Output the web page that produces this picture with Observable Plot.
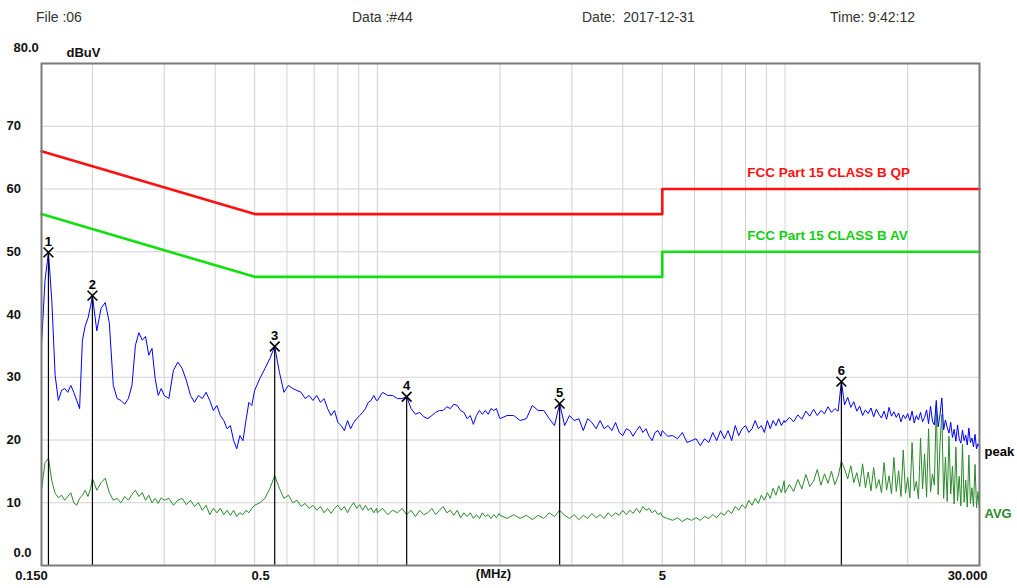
<!DOCTYPE html>
<html><head><meta charset="utf-8">
<script src="https://cdn.jsdelivr.net/npm/d3@7"></script>
<script src="https://cdn.jsdelivr.net/npm/@observablehq/plot@0.6"></script>
<style>
body{margin:0;background:#fff;width:1017px;height:588px;overflow:hidden;font-family:"Liberation Sans",Arial,sans-serif;}
#hdr{position:relative;height:34px;}
#hdr span{position:absolute;top:9px;font-size:14px;line-height:16px;color:#333;white-space:pre;}
</style></head><body>
<div id="hdr"></div><div id="chart"></div>
<script>
// ---------- data ----------
const headerItems = ["File :06", "Data :#44", "Date:  2017-12-31", "Time: 9:42:12"];

const freqMHz = [
  0.150,0.153,0.156,0.159,0.162,0.165,0.168,0.171,0.174,0.177,0.180,0.183,0.186,0.189,0.192,0.195,0.198,
  0.200,0.205,0.210,0.215,0.220,0.225,0.230,0.235,0.240,0.245,0.250,0.255,0.260,0.265,0.270,0.275,0.280,0.285,0.290,0.295,
  0.300,0.308,0.316,0.324,0.332,0.340,0.348,0.356,0.364,0.372,0.380,0.388,0.396,0.404,0.412,0.420,0.428,0.436,0.444,0.452,0.460,0.468,0.476,0.484,0.492,
  0.500,0.515,0.530,0.545,0.560,0.575,0.590,0.605,0.620,0.635,0.650,0.665,0.680,0.695,0.710,0.725,0.740,0.755,0.770,0.785,0.800,0.815,0.830,0.845,0.860,0.875,0.890,0.905,0.920,0.935,0.950,0.965,0.980,0.995,
  1.00,1.03,1.06,1.09,1.12,1.15,1.18,1.21,1.24,1.27,1.30,1.33,1.36,1.39,1.42,1.45,1.48,1.51,1.54,1.57,1.60,1.63,1.66,1.69,1.72,1.75,1.78,1.81,1.84,1.87,1.90,1.93,1.96,1.99,
  2.00,2.08,2.16,2.24,2.32,2.40,2.48,2.56,2.64,2.72,2.80,2.88,2.96,3.04,3.12,3.20,3.28,3.36,3.44,3.52,3.60,3.68,3.76,3.84,3.92,4.00,4.08,4.16,4.24,4.32,4.40,4.48,4.56,4.64,4.72,4.80,4.88,4.96,
  5.00,5.15,5.30,5.45,5.60,5.75,5.90,6.05,6.20,6.35,6.50,6.65,6.80,6.95,7.10,7.25,7.40,7.55,7.70,7.85,8.00,8.15,8.30,8.45,8.60,8.75,8.90,9.05,9.20,9.35,9.50,9.65,9.80,9.95,
  10.00,10.25,10.50,10.75,11.00,11.25,11.50,11.75,12.00,12.25,12.50,12.75,13.00,13.25,13.50,13.75,
  14.00,14.25,14.50,14.75,15.00,15.25,15.50,15.75,16.00,16.25,16.50,16.75,17.00,17.25,17.50,17.75,
  18.00,18.25,18.50,18.75,19.00,19.25,19.50,19.75,20.00,20.25,20.50,20.75,21.00,21.25,21.50,21.75,
  22.00,22.25,22.50,22.75,23.00,23.25,23.50,23.75,24.00,24.25,24.50,24.75,25.00,25.25,25.50,25.75,
  26.00,26.25,26.50,26.75,27.00,27.25,27.50,27.75,28.00,28.25,28.50,28.75,29.00,29.25,29.50,29.75,30.00
];

const peakDb = [
  35.1,45.4,49.9,42.2,30.3,26.3,27.9,28.2,27.6,28.7,27.6,26.3,25.0,35.9,38.2,39.4,41.4,
  43.0,37.4,41.0,41.9,38.7,28.7,26.6,26.3,25.7,26.6,28.7,35.1,37.1,35.9,36.5,33.5,34.6,29.8,27.1,28.2,
  27.1,26.6,31.1,32.4,31.4,29.5,27.1,26.0,27.1,26.6,27.6,26.3,24.7,25.5,23.9,23.1,21.8,22.3,19.9,18.6,20.7,19.9,23.1,26.0,25.5,
  27.9,29.8,31.4,33.0,34.9,30.8,27.6,28.7,28.2,27.9,27.6,26.6,27.1,26.3,27.1,26.0,26.6,25.0,23.9,24.7,22.8,22.3,21.5,23.1,21.8,22.8,23.4,23.9,24.4,25.0,26.0,26.3,27.1,26.3,
  26.3,27.6,27.1,27.1,26.6,26.6,26.9,25.0,24.1,24.4,23.7,23.4,23.9,24.4,24.7,24.7,25.3,25.0,25.7,25.5,24.7,24.4,23.4,23.9,22.5,23.9,24.7,24.1,24.7,24.1,25.0,24.7,25.0,23.7,
  23.4,23.9,23.9,23.1,23.4,25.5,24.7,24.7,23.4,22.3,25.8,22.3,23.9,23.1,23.4,21.5,23.4,22.8,21.8,23.1,21.8,22.3,21.5,22.8,21.2,20.7,21.8,21.5,20.6,21.5,22.2,21.2,21.8,20.6,19.9,21.2,21.5,20.6,
  21.5,20.6,20.7,20.2,21.2,19.6,19.9,20.2,19.1,20.2,19.6,21.2,19.9,21.5,20.2,21.5,19.9,22.3,20.7,21.8,22.3,21.2,21.8,23.1,21.8,22.3,21.2,23.1,21.8,23.1,22.3,23.4,22.3,23.1,
  22.8,23.6,22.9,24.0,23.3,24.6,23.8,24.9,23.9,24.7,24.2,25.3,24.4,25.0,24.6,29.3,
  25.6,26.8,25.2,26.1,24.6,25.4,23.9,24.8,24.2,25.1,23.7,24.9,24.1,23.5,24.6,23.3,
  25.2,23.8,24.5,23.6,24.3,22.9,24.0,23.4,24.2,23.1,24.6,22.7,23.9,23.2,24.4,22.9,
  23.6,24.8,22.6,25.4,23.0,22.4,26.3,22.1,24.0,26.7,21.6,23.2,22.0,21.1,22.8,20.4,
  21.7,19.8,22.4,20.2,19.5,21.6,19.9,20.8,19.2,21.9,19.6,20.3,18.9,20.9,18.6,19.4,19.0
];

const avgDb = [
  12.0,16.4,17.1,13.5,11.5,10.8,11.2,10.4,11.0,11.6,10.0,9.6,10.7,11.2,12.0,11.0,12.3,
  13.9,12.0,13.2,13.9,11.6,10.4,10.7,10.0,11.0,10.4,11.3,12.0,11.0,11.6,10.4,11.2,10.0,10.7,9.9,10.8,
  10.4,10.7,9.6,10.4,10.7,9.7,10.4,9.4,10.0,8.8,9.6,8.1,9.1,8.4,9.1,8.1,8.8,8.0,8.8,7.8,8.4,8.1,8.8,8.4,9.1,
  9.6,10.0,10.7,12.3,14.3,12.3,10.7,11.2,10.0,10.4,9.4,9.9,9.1,9.6,8.8,9.4,8.4,9.1,8.3,9.1,9.6,8.8,9.4,8.4,9.4,10.0,9.1,9.7,8.8,9.6,8.8,9.2,8.4,9.1,
  8.4,9.1,8.1,8.8,8.4,9.1,8.1,8.8,7.8,8.8,8.1,8.4,9.1,8.1,8.8,9.4,8.4,8.8,8.0,8.8,7.6,8.4,7.8,8.4,7.5,8.1,7.5,8.4,7.8,8.1,7.5,8.1,7.6,8.3,
  8.0,7.5,8.1,7.5,8.0,7.3,8.0,7.5,8.4,7.8,8.8,8.0,7.5,8.1,7.3,8.0,7.5,8.3,7.6,8.1,7.5,8.4,7.8,8.4,8.0,8.8,8.1,8.8,8.3,9.1,8.4,9.4,8.8,9.1,8.4,8.8,8.1,8.4,
  7.8,7.5,7.2,7.6,7.0,7.5,7.2,7.6,7.2,7.8,7.5,8.1,7.6,8.4,8.0,8.8,8.3,9.4,8.8,9.7,9.1,10.4,9.6,10.7,9.9,11.2,10.4,11.6,10.7,12.3,11.2,12.7,11.6,13.5,
  11.6,12.9,11.8,13.7,12.2,14.5,12.6,13.4,15.3,12.8,14.6,13.1,15.0,12.9,14.2,16.6,
  15.4,13.8,15.9,13.2,14.8,12.6,16.2,12.4,14.9,11.9,15.6,12.3,13.7,11.6,16.4,12.0,
  14.3,11.4,17.2,11.8,15.1,11.0,18.4,11.5,14.0,10.8,19.6,11.9,13.4,10.6,20.3,12.2,
  17.8,10.9,21.8,11.7,14.6,12.8,25.6,11.3,19.4,24.1,10.7,17.3,10.2,20.6,11.4,15.8,
  9.8,18.9,10.3,14.2,9.5,19.3,10.1,13.6,9.3,17.6,9.9,12.4,9.4,16.1,9.2,11.8,8.8
];

// FCC Part 15 Class B limits (frequency MHz, dBuV)
const qpLimitFreq = [0.15, 0.5, 5, 5, 30];
const qpLimitDb   = [66, 56, 56, 60, 60];
const avLimitFreq = [0.15, 0.5, 5, 5, 30];
const avLimitDb   = [56, 46, 46, 50, 50];
const limitNames  = ["FCC Part 15 CLASS B QP", "FCC Part 15 CLASS B AV"];

// markers
const markerNo   = [1, 2, 3, 4, 5, 6];
const markerFreq = [0.156, 0.200, 0.560, 1.18, 2.80, 13.75];
const markerDb   = [49.9, 43.0, 34.9, 26.9, 25.8, 29.3];

// axes
const xTickValues = [0.15, 0.5, 5, 30];
const xTickLabels = ["0.150", "0.5", "5", "30.000"];
const xUnit = "(MHz)";
const yTickValues = [10, 20, 30, 40, 50, 60, 70];
const yTopLabel = "80.0", yBottomLabel = "0.0", yUnit = "dBuV";
const gridFreq = [0.2,0.3,0.4,0.5,0.6,0.7,0.8,0.9,1,2,3,4,5,6,7,8,9,10,20];
const gridDb = [10, 20, 30, 40, 50, 60, 70];
const traceNames = ["peak", "AVG"];

// ---------- build ----------
const hdr = document.getElementById("hdr");
const hdrLeft = [36, 352, 582, 830];
headerItems.forEach((t, i) => {
  const s = document.createElement("span");
  s.textContent = t; s.style.left = hdrLeft[i] + "px";
  hdr.appendChild(s);
});

const peak = freqMHz.map((f, i) => ({f, db: peakDb[i]}));
const avg = freqMHz.map((f, i) => ({f, db: avgDb[i]}));
const qp = qpLimitFreq.map((f, i) => ({f, db: qpLimitDb[i]}));
const av = avLimitFreq.map((f, i) => ({f, db: avLimitDb[i]}));
const markers = markerNo.map((n, i) => ({n, f: markerFreq[i], db: markerDb[i]}));

const FONT = '"Liberation Sans", Arial, sans-serif';
const fmtX = d => xTickLabels[xTickValues.indexOf(d)];
const xAxisDx = [-10, 6, 0, -12];
const AX = {tickSize: 0, label: null, fontSize: 13, fontWeight: "bold", fill: "#111"};

const marks = [
  Plot.ruleX(gridFreq, {stroke: "#d2d2d2", strokeWidth: 1}),
  Plot.ruleY(gridDb, {stroke: "#d2d2d2", strokeWidth: 1}),
  Plot.line(qp, {x: "f", y: "db", stroke: "#ff1010", strokeWidth: 2.6}),
  Plot.line(av, {x: "f", y: "db", stroke: "#10e010", strokeWidth: 2.6}),
  Plot.text([qp[3]], {x: "f", y: "db", text: () => limitNames[0], fill: "#ff1010", textAnchor: "start", dx: 85, dy: -16, fontSize: 13.5, fontWeight: "bold"}),
  Plot.text([av[3]], {x: "f", y: "db", text: () => limitNames[1], fill: "#10d010", textAnchor: "start", dx: 85, dy: -16, fontSize: 13.5, fontWeight: "bold"}),
  Plot.line(avg, {x: "f", y: "db", stroke: "#2a8a2a", strokeWidth: 1}),
  Plot.line(peak, {x: "f", y: "db", stroke: "#0000ff", strokeWidth: 1}),
  Plot.ruleX(markers, {x: "f", y1: 0, y2: "db", stroke: "#000", strokeWidth: 1.2}),
  Plot.dot(markers, {x: "f", y: "db", symbol: "times", r: 4.5, stroke: "#000", strokeWidth: 1.6}),
  Plot.text(markers, {x: "f", y: "db", text: "n", dy: -11, fontSize: 13, fontWeight: "bold", fill: "#000"}),
  Plot.text([peak[peak.length - 1]], {x: "f", y: "db", text: () => traceNames[0], textAnchor: "start", dx: 5, dy: 6, fontSize: 13, fontWeight: "bold", fill: "#000"}),
  Plot.text([avg[avg.length - 1]], {x: "f", y: "db", text: () => traceNames[1], textAnchor: "start", dx: 5, dy: 4, fontSize: 13, fontWeight: "bold", fill: "#2a8a2a"}),
  Plot.frame({stroke: "#7a7a7a", strokeWidth: 2}),
  Plot.axisY({...AX, ticks: yTickValues, tickPadding: 0, textAnchor: "start", dx: -35}),
  Plot.axisY({...AX, ticks: [0], tickFormat: () => yBottomLabel, tickPadding: 0, textAnchor: "start", dx: -28, dy: -13}),
  Plot.axisY({...AX, ticks: [80], tickFormat: () => yTopLabel, tickPadding: 0, textAnchor: "start", dx: -28, dy: -16}),
  Plot.text([yUnit], {frameAnchor: "top-left", text: d => d, textAnchor: "start", dx: 25, dy: -16, fontSize: 13, fontWeight: "bold", fill: "#111"}),
  ...xTickValues.map((v, i) => Plot.axisX({...AX, ticks: [v], tickFormat: fmtX, tickPadding: 5, dx: xAxisDx[i]})),
  Plot.text([xUnit], {frameAnchor: "bottom", text: d => d, dx: -17, dy: 12, fontSize: 13, fontWeight: "bold", fill: "#111"})
];

const chart = Plot.plot({
  width: 1017, height: 554,
  marginLeft: 41, marginRight: 38, marginTop: 29, marginBottom: 23,
  x: {type: "log", domain: [0.15, 30], label: null},
  y: {domain: [0, 80], label: null},
  style: {fontFamily: FONT, background: "#fff", overflow: "visible"},
  marks
});
document.getElementById("chart").appendChild(chart);
</script>
</body></html>
